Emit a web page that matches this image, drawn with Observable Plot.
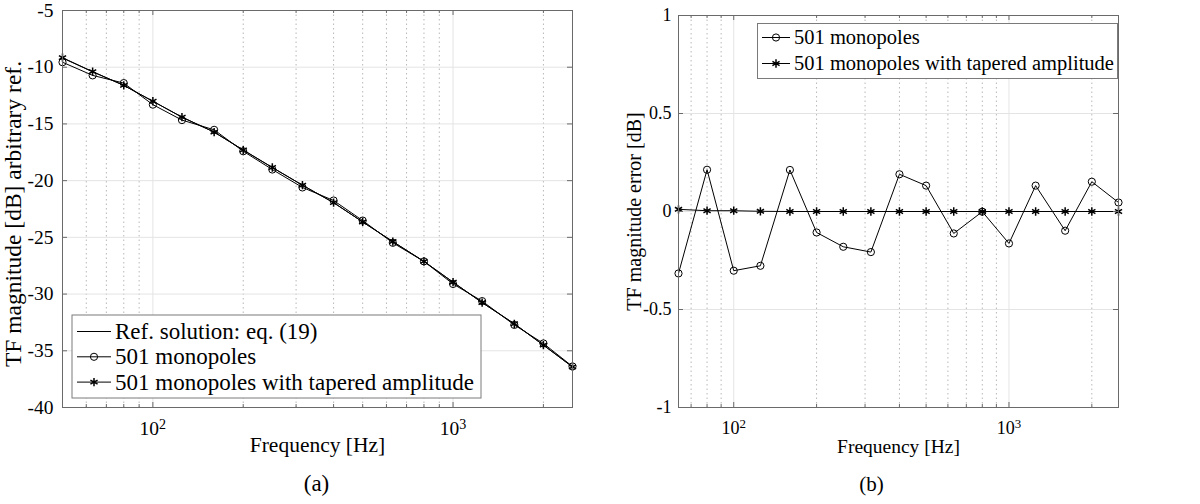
<!DOCTYPE html>
<html><head><meta charset="utf-8">
<script src="https://cdn.jsdelivr.net/npm/d3@7"></script>
<script src="https://cdn.jsdelivr.net/npm/@observablehq/plot@0.6"></script>
<style>
html,body{margin:0;padding:0;background:#fff;}
#wrap{position:relative;width:1200px;height:504px;overflow:hidden;}
#wrap svg{position:absolute;top:0;overflow:visible;}
</style></head><body><div id="wrap"></div>
<script>
// ---------- data: panel (a) ----------
const freqA  = [50, 63, 80, 100, 125, 160, 200, 250, 315, 400, 500, 630, 800, 1000, 1250, 1600, 2000, 2500];
const refA   = [-9.19, -10.40, -11.60, -13.00, -14.40, -15.72, -17.30, -18.84, -20.40, -21.94, -23.64, -25.37, -27.12, -28.95, -30.75, -32.62, -34.50, -36.42];
const monoA  = [-9.56, -10.72, -11.40, -13.30, -14.66, -15.52, -17.41, -19.02, -20.60, -21.75, -23.52, -25.48, -27.12, -29.11, -30.62, -32.72, -34.35, -36.38];
const taperA = [-9.16, -10.39, -11.60, -13.00, -14.40, -15.72, -17.30, -18.84, -20.40, -21.94, -23.64, -25.37, -27.12, -28.95, -30.75, -32.62, -34.50, -36.42];
const yTicksA = [-40, -35, -30, -25, -20, -15, -10, -5];
const majorXA = [100, 1000];
const minorXA = [60, 70, 80, 90, 200, 300, 400, 500, 600, 700, 800, 900, 2000];

// ---------- data: panel (b) ----------
const freqB     = [63, 80, 100, 125, 160, 200, 250, 315, 400, 500, 630, 800, 1000, 1250, 1600, 2000, 2500];
const errMonoB  = [-0.316, 0.213, -0.302, -0.277, 0.212, -0.107, -0.180, -0.207, 0.190, 0.132, -0.112, -0.001, -0.163, 0.132, -0.098, 0.152, 0.046];
const errTaperB = [0.011, 0.004, 0.004, 0.001, 0.000, 0.000, 0.000, 0.000, 0.000, 0.000, 0.000, 0.000, 0.000, 0.000, 0.000, 0.000, 0.000];
const yTicksB = [-1, -0.5, 0, 0.5, 1];
const majorXB = [100, 1000];
const minorXB = [70, 80, 90, 200, 300, 400, 500, 600, 700, 800, 900, 2000];

const legendA = ["Ref. solution: eq. (19)", "501 monopoles", "501 monopoles with tapered amplitude"];
const legendB = ["501 monopoles", "501 monopoles with tapered amplitude"];

// ---------- styling ----------
const FONT = "'Liberation Serif', 'Times New Roman', serif";
const GRID = "#e4e4e4", MINOR = "#b8b8b8", AXIS = "#6a6a6a";
const R_CIRC = 3.6, R_STAR = 3.9, STAR_W = 1.5;

const ptsA = freqA.map((f, i) => ({f, ref: refA[i], mono: monoA[i], taper: taperA[i]}));
const ptsB = freqB.map((f, i) => ({f, mono: errMonoB[i], taper: errTaperB[i]}));

const expFmt = d => "10^" + Math.round(Math.log10(d));

function panel(o) {
  const fw = o.width - o.ml - o.mr, fh = o.height - o.mt - o.mb;
  return Plot.plot({
    width: o.width, height: o.height,
    marginLeft: o.ml, marginRight: o.mr, marginTop: o.mt, marginBottom: o.mb,
    style: {fontFamily: FONT, fontSize: o.tickFont + "px", background: "transparent", color: "#000", overflow: "visible"},
    x: {type: "log", domain: o.xDomain},
    y: {domain: o.yDomain},
    marks: [
      Plot.gridX(o.minorX, {stroke: MINOR, strokeOpacity: 1, strokeDasharray: "1.5,3"}),
      Plot.gridX(o.majorX, {stroke: GRID, strokeOpacity: 1}),
      Plot.gridY(o.yTicks, {stroke: GRID, strokeOpacity: 1}),
      ...o.dataMarks,
      // inward ticks (MATLAB box style)
      Plot.ruleX(o.majorX, {insetTop: fh - 5, stroke: AXIS}),
      Plot.ruleX(o.majorX, {insetBottom: fh - 5, stroke: AXIS}),
      Plot.ruleX(o.minorX, {insetTop: fh - 3, stroke: AXIS}),
      Plot.ruleX(o.minorX, {insetBottom: fh - 3, stroke: AXIS}),
      Plot.ruleY(o.yTicks, {insetRight: fw - 5, stroke: AXIS}),
      Plot.ruleY(o.yTicks, {insetLeft: fw - 5, stroke: AXIS}),
      Plot.axisX({ticks: o.majorX, tickSize: 0, tickPadding: o.xPad, tickFormat: expFmt, label: null, fontSize: o.tickFont}),
      Plot.axisY({ticks: o.yTicks, tickSize: 0, tickPadding: o.yPad, tickFormat: d => String(d), label: null, fontSize: o.tickFont}),
      Plot.text([o.xLabel], {text: d => d, frameAnchor: "bottom", dy: o.xLabelDy, fontSize: o.labelFont}),
      Plot.text([o.caption], {text: d => d, frameAnchor: "bottom", dx: o.captionDx, dy: o.captionDy, fontSize: o.captionFont}),
      Plot.text([o.yLabel], {text: d => d, frameAnchor: "left", textAnchor: "middle", rotate: -90, dx: o.yLabelDx, dy: o.yLabelDy, fontSize: o.yLabelFont}),
      Plot.frame({stroke: AXIS, strokeWidth: 1})
    ]
  });
}

function lineDotMarks(pts, key, kind) {
  const m = [Plot.line(pts, {x: "f", y: key, stroke: "#000", strokeWidth: 1})];
  if (kind === "circle") m.push(Plot.dot(pts, {x: "f", y: key, r: R_CIRC, stroke: "#000", fill: "none", strokeWidth: 1}));
  if (kind === "star") m.push(Plot.dot(pts, {x: "f", y: key, symbol: "asterisk", r: R_STAR, stroke: "#000", strokeWidth: STAR_W}));
  return m;
}

const left = panel({
  width: 600, height: 504, ml: 62, mr: 28, mt: 10, mb: 97,
  xDomain: [50, 2500], yDomain: [-40, -5],
  yTicks: yTicksA, majorX: majorXA, minorX: minorXA,
  tickFont: 19.5, labelFont: 21.5, yLabelFont: 23.5, captionFont: 23,
  xPad: 14, yPad: 9,
  xLabel: "Frequency [Hz]", xLabelDy: 44,
  caption: "(a)", captionDx: -1, captionDy: 83,
  yLabel: "TF magnitude [dB] arbitrary ref.", yLabelDx: -49, yLabelDy: 5,
  dataMarks: [
    ...lineDotMarks(ptsA, "ref", "none"),
    ...lineDotMarks(ptsA, "mono", "circle"),
    ...lineDotMarks(ptsA, "taper", "star")
  ]
});

const right = panel({
  width: 600, height: 504, ml: 78, mr: 82, mt: 15, mb: 97,
  xDomain: [63, 2500], yDomain: [-1, 1],
  yTicks: yTicksB, majorX: majorXB, minorX: minorXB,
  tickFont: 18, labelFont: 19.5, yLabelFont: 20, captionFont: 21,
  xPad: 14, yPad: 7,
  xLabel: "Frequency [Hz]", xLabelDy: 45,
  caption: "(b)", captionDx: -27, captionDy: 83,
  yLabel: "TF magnitude error [dB]", yLabelDx: -44, yLabelDy: 0,
  dataMarks: [
    ...lineDotMarks(ptsB, "mono", "circle"),
    ...lineDotMarks(ptsB, "taper", "star")
  ]
});

// superscript exponents on x tick labels
function superscripts(svg) {
  d3.select(svg).selectAll("text").each(function() {
    const t = this.textContent;
    const m = /^10\^(\d+)$/.exec(t);
    if (!m) return;
    const sel = d3.select(this);
    sel.text("10");
    sel.append("tspan").attr("dy", "-0.45em").attr("font-size", "72%").text(m[1]);
  });
}

function addLegend(svg, o) {
  const g = d3.select(svg).append("g").attr("font-family", FONT).attr("font-size", o.fontSize + "px");
  g.append("rect").attr("x", o.x).attr("y", o.y).attr("width", o.w).attr("height", o.h)
    .attr("fill", "#fff").attr("stroke", "#7a7a7a").attr("stroke-width", 1);
  o.items.forEach((it, i) => {
    const cy = o.y0 + i * o.dy;
    g.append("line").attr("x1", o.lx1).attr("x2", o.lx2).attr("y1", cy).attr("y2", cy)
      .attr("stroke", "#000").attr("stroke-width", 1);
    const cx = (o.lx1 + o.lx2) / 2;
    if (it.kind === "circle") {
      g.append("path").attr("transform", `translate(${cx},${cy})`)
        .attr("d", d3.symbol(d3.symbolCircle, Math.PI * R_CIRC * R_CIRC)())
        .attr("fill", "none").attr("stroke", "#000");
    } else if (it.kind === "star") {
      g.append("path").attr("transform", `translate(${cx},${cy})`)
        .attr("d", d3.symbol(d3.symbolAsterisk, Math.PI * R_STAR * R_STAR)())
        .attr("fill", "none").attr("stroke", "#000").attr("stroke-width", STAR_W);
    }
    g.append("text").attr("x", o.tx).attr("y", cy).attr("dy", "0.33em")
      .attr("text-anchor", "start").attr("fill", "#000").text(it.label);
  });
}

superscripts(left);
superscripts(right);

addLegend(left, {
  x: 72, y: 315, w: 409, h: 83, fontSize: 23,
  y0: 331.5, dy: 25.3, lx1: 77, lx2: 111, tx: 115,
  items: [{label: legendA[0], kind: "none"}, {label: legendA[1], kind: "circle"}, {label: legendA[2], kind: "star"}]
});
addLegend(right, {
  x: 157.5, y: 23.5, w: 360, h: 55, fontSize: 20.5,
  y0: 37.5, dy: 26, lx1: 162, lx2: 190, tx: 194,
  items: [{label: legendB[0], kind: "circle"}, {label: legendB[1], kind: "star"}]
});

const wrap = document.getElementById("wrap");
left.style.left = "0px";
right.style.left = "600px";
wrap.appendChild(left);
wrap.appendChild(right);
</script>
</body></html>
